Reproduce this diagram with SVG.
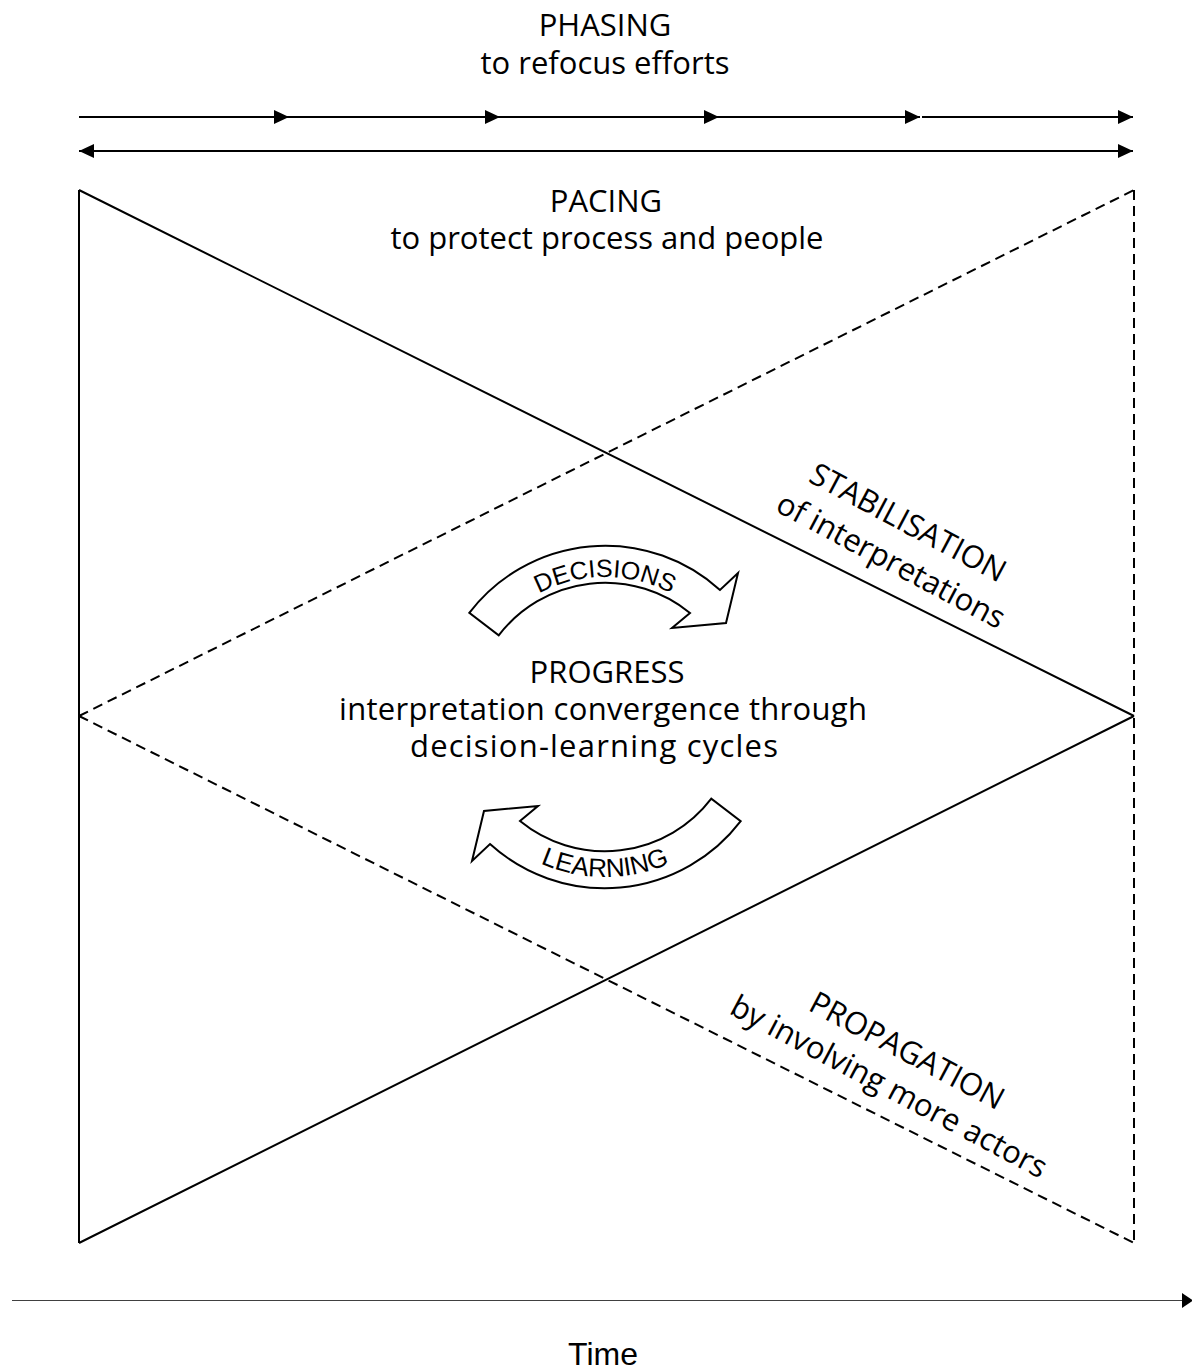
<svg xmlns="http://www.w3.org/2000/svg" width="1192" height="1370" viewBox="0 0 1192 1370">
  <style>
    .t { font-family: "Open Sans", "Noto Sans", "Liberation Sans", sans-serif; font-size: 31px; fill: #000; text-anchor: middle; }
    .a { font-family: "Liberation Sans", Arial, sans-serif; fill: #000; }
    .ln { stroke: #000; stroke-width: 2; fill: none; }
    .dash { stroke: #000; stroke-width: 2; fill: none; stroke-dasharray: 10 6; }
    .cyc { fill: #fff; stroke: #000; stroke-width: 2; stroke-linejoin: miter; }
  </style>
  <defs>
    <marker id="ah" markerUnits="userSpaceOnUse" markerWidth="16" markerHeight="14" refX="15" refY="7" orient="auto-start-reverse">
      <path d="M0,0 L15,7 L0,14 Z" fill="#000"/>
    </marker>
    <marker id="ahT" markerUnits="userSpaceOnUse" markerWidth="12" markerHeight="15" refX="11" refY="7.5" orient="auto">
      <path d="M0,0 L11,7.5 L0,15 Z" fill="#000"/>
    </marker>
    <path id="cycArrow" d="M469.3 612.9 A171 171 0 0 1 720 590 L738 573 L726 623 L672 628 L690 613 A134 134 0 0 0 498.7 635.4 Z"/>
    <path id="arcTop" d="M465 717 A140 140 0 0 1 745 717"/>
    <path id="arcBot" d="M445 717 A160 160 0 0 0 765 717"/>
  </defs>

  <g id="phasing">
    <text class="t" x="605" y="36">PHASING</text>
    <text class="t" x="605" y="74">to refocus efforts</text>
    <line class="ln" x1="79" y1="117" x2="289" y2="117" marker-end="url(#ah)"/>
    <line class="ln" x1="289" y1="117" x2="500" y2="117" marker-end="url(#ah)"/>
    <line class="ln" x1="500" y1="117" x2="719" y2="117" marker-end="url(#ah)"/>
    <line class="ln" x1="719" y1="117" x2="920" y2="117" marker-end="url(#ah)"/>
    <line class="ln" x1="922" y1="117" x2="1133" y2="117" marker-end="url(#ah)"/>
  </g>

  <g id="pacing">
    <line class="ln" x1="79" y1="151" x2="1133" y2="151" marker-start="url(#ah)" marker-end="url(#ah)"/>
    <text class="t" x="606" y="212">PACING</text>
    <text class="t" x="607" y="249">to protect process and people</text>
  </g>

  <g id="connectors">
    <line class="ln" x1="79" y1="190" x2="79" y2="1243"/>
    <line class="ln" x1="79" y1="190" x2="1134" y2="716"/>
    <line class="ln" x1="1134" y1="716" x2="79" y2="1243"/>
    <line class="dash" x1="79" y1="716" x2="1134" y2="190"/>
    <line class="dash" x1="79" y1="716" x2="1134" y2="1243"/>
    <line class="dash" x1="1134" y1="190" x2="1134" y2="1243"/>
  </g>

  <g id="stabilisation">
    <text class="t" transform="translate(903 532) rotate(28)">STABILISATION</text>
    <text class="t" transform="translate(886 570) rotate(28)">of interpretations</text>
  </g>

  <g id="propagation">
    <text class="t" transform="translate(902 1060) rotate(28)">PROPAGATION</text>
    <text class="t" transform="translate(884 1096) rotate(28)">by involving more actors</text>
  </g>

  <g id="decisions">
    <use href="#cycArrow" class="cyc"/>
    <text class="a" font-size="25" text-anchor="middle"><textPath href="#arcTop" startOffset="50%">DECISIONS</textPath></text>
  </g>

  <g id="learning">
    <use href="#cycArrow" class="cyc" transform="rotate(180 605 717)"/>
    <text class="a" font-size="26" text-anchor="middle"><textPath href="#arcBot" startOffset="50%">LEARNING</textPath></text>
  </g>

  <g id="progress">
    <text class="t" x="607" y="683">PROGRESS</text>
    <text class="t" x="603" y="720" textLength="528">interpretation convergence through</text>
    <text class="t" x="594" y="757" textLength="368">decision-learning cycles</text>
  </g>

  <g id="time">
    <line x1="12" y1="1300.5" x2="1193" y2="1300.5" stroke="#404040" stroke-width="1" marker-end="url(#ahT)"/>
    <text class="a" x="603" y="1365" font-size="32" text-anchor="middle">Time</text>
  </g>
</svg>
